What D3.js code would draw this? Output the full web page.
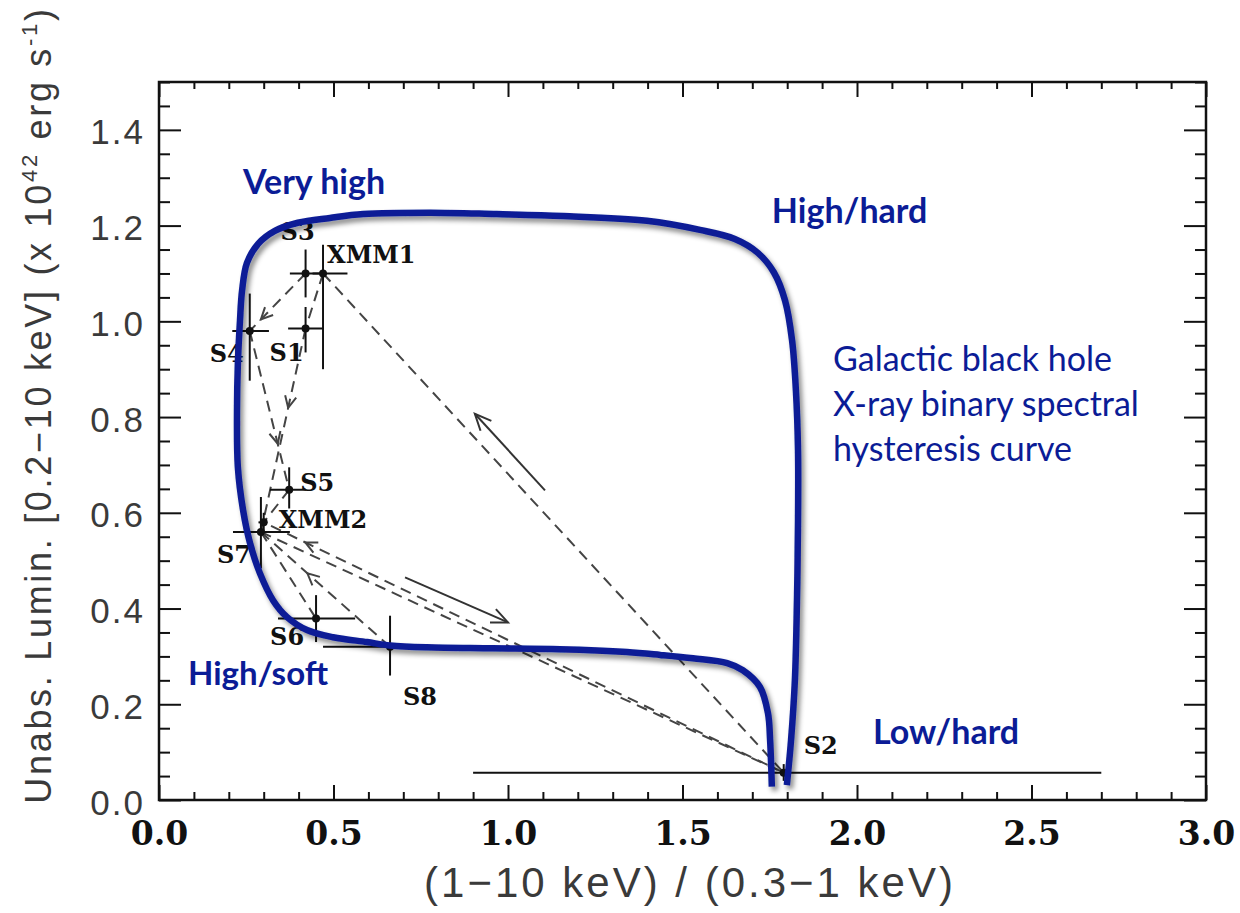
<!DOCTYPE html>
<html>
<head>
<meta charset="utf-8">
<script src="https://cdn.jsdelivr.net/npm/d3@7/dist/d3.min.js"></script>
<style>
  html, body { margin: 0; padding: 0; background: #fff; }
  svg { display: block; }
</style>
</head>
<body>
<svg id="chart" width="1240" height="913"></svg>
<script>
// ---- observations: hardness ratio (1-10 keV)/(0.3-1 keV) vs unabsorbed luminosity ----
const obsNames = ["XMM1", "S1", "S2", "S3", "S4", "S5", "XMM2", "S6", "S7", "S8"];
const hardness = [0.47, 0.42, 1.79, 0.42, 0.26, 0.373, 0.30, 0.45, 0.292, 0.662];
const hardLow  = [0.44, 0.37, 0.90, 0.375, 0.21, 0.318, 0.285, 0.341, 0.212, 0.47];
const hardHigh = [0.54, 0.47, 2.70, 0.47, 0.315, 0.421, 0.31, 0.562, 0.375, 0.86];
const lumin    = [1.10, 0.985, 0.057, 1.10, 0.98, 0.648, 0.58, 0.379, 0.560, 0.32];
const lumLow   = [0.90, 0.935, 0.040, 1.05, 0.876, 0.609, 0.56, 0.330, 0.484, 0.26];
const lumHigh  = [1.16, 1.03, 0.075, 1.15, 1.058, 0.695, 0.60, 0.428, 0.633, 0.385];

// dashed transitions between observations (from, to) and where a chevron sits (fraction along)
const pathFrom = ["XMM1", "S3", "S1", "S4", "XMM1", "S2",   "S7", "S8", "S7", "S5"];
const pathTo   = ["S1",   "S4", "S7", "S5", "S2",   "XMM2", "S2", "S7", "S6", "XMM2"];
const chevronAt = [null,  0.8,  0.39, 0.71, null,   0.92,   null, 0.64, null, null];

// solid direction arrows (tail -> head), data units
const arrowTailX = [1.106, 0.705];
const arrowTailY = [0.647, 0.465];
const arrowHeadX = [0.905, 1.00];
const arrowHeadY = [0.807, 0.371];

// hand-drawn hysteresis loop, data units
const loopX = [1.756, 1.751, 1.745, 1.722, 1.673, 1.628, 1.530, 1.436, 1.341, 1.149, 0.957, 0.768,
               0.662, 0.596, 0.499, 0.424, 0.367, 0.327, 0.289, 0.261, 0.241, 0.226, 0.2235, 0.226,
               0.232, 0.238, 0.252, 0.284, 0.332, 0.398, 0.490, 0.585, 0.777, 0.968, 1.158, 1.398,
               1.550, 1.650, 1.716, 1.762, 1.794, 1.814, 1.825, 1.831, 1.831, 1.828, 1.822, 1.811, 1.799];
const loopY = [0.028, 0.125, 0.181, 0.236, 0.271, 0.286, 0.296, 0.303, 0.309, 0.315, 0.317, 0.319,
               0.323, 0.330, 0.340, 0.355, 0.382, 0.417, 0.474, 0.536, 0.605, 0.695, 0.814, 0.912,
               1.001, 1.064, 1.122, 1.162, 1.189, 1.206, 1.216, 1.224, 1.227, 1.224, 1.220, 1.210,
               1.191, 1.172, 1.143, 1.102, 1.043, 0.960, 0.855, 0.730, 0.584, 0.417, 0.250, 0.125, 0.031];

// state annotations
const stateNames = ["Very high", "High/hard", "High/soft", "Low/hard"];
const stateX = [0.241, 1.756, 0.083, 2.046];
const stateY = [1.266, 1.206, 0.240, 0.117];
const stateSize = [34, 34, 33, 34];

const noteLines = ["Galactic black hole", "X-ray binary spectral", "hysteresis curve"];

const xMajor = [0, 0.5, 1.0, 1.5, 2.0, 2.5, 3.0];
const yMajor = [0, 0.2, 0.4, 0.6, 0.8, 1.0, 1.2, 1.4];

// ---- layout ----
const svg = d3.select("#chart");
const plotLeft = 159, plotRight = 1206, plotTop = 82, plotBottom = 800;
const x = d3.scaleLinear().domain([0, 3]).range([plotLeft, plotRight]);
const y = d3.scaleLinear().domain([0, 1.5]).range([plotBottom, plotTop]);
const blue = "#0b1c96";

const defs = svg.append("defs");
const shadow = defs.append("filter").attr("id", "loopShadow")
  .attr("x", "-10%").attr("y", "-10%").attr("width", "120%").attr("height", "120%");
shadow.append("feDropShadow").attr("dx", 3).attr("dy", 4).attr("stdDeviation", 2.5)
  .attr("flood-color", "#000").attr("flood-opacity", 0.45);

const idx = name => obsNames.indexOf(name);

// axes: ticks pointing into the frame on all four sides
const xMinor = d3.range(0, 3.0001, 0.1).filter(v => Math.abs(v * 2 - Math.round(v * 2)) > 1e-6);
const yMinor = d3.range(0, 1.5001, 0.05).filter(v => Math.abs(v * 5 - Math.round(v * 5)) > 1e-6);

function drawAxis(axisGen, transform) {
  const g = svg.append("g").attr("transform", transform).call(axisGen);
  g.select(".domain").remove();
  g.selectAll(".tick line").attr("stroke", "#111").attr("stroke-width", 2);
  return g;
}

// bottom
const gxb = drawAxis(d3.axisBottom(x).tickValues(xMajor).tickSize(-15).tickFormat(d3.format(".1f")).tickPadding(22),
  `translate(0,${plotBottom})`);
gxb.selectAll("text").attr("font-family", "DejaVu Serif").attr("font-weight", "bold")
  .attr("font-size", 33).attr("fill", "#111");
drawAxis(d3.axisBottom(x).tickValues(xMinor).tickSize(-8).tickFormat(""), `translate(0,${plotBottom})`);
// top
drawAxis(d3.axisTop(x).tickValues(xMajor).tickSize(-15).tickFormat(""), `translate(0,${plotTop})`);
drawAxis(d3.axisTop(x).tickValues(xMinor).tickSize(-7).tickFormat(""), `translate(0,${plotTop})`);
// left
const gyl = drawAxis(d3.axisLeft(y).tickValues(yMajor).tickSize(-22).tickFormat(d3.format(".1f")).tickPadding(14),
  `translate(${plotLeft},0)`);
gyl.selectAll("text").attr("font-family", "Liberation Sans").attr("font-size", 35)
  .attr("letter-spacing", 2).attr("fill", "#3a3a3a").attr("dy", "0.4em");
drawAxis(d3.axisLeft(y).tickValues(yMinor).tickSize(-11).tickFormat(""), `translate(${plotLeft},0)`);
// right
drawAxis(d3.axisRight(y).tickValues(yMajor).tickSize(-22).tickFormat(""), `translate(${plotRight},0)`);
drawAxis(d3.axisRight(y).tickValues(yMinor).tickSize(-11).tickFormat(""), `translate(${plotRight},0)`);

// frame
svg.append("rect").attr("x", plotLeft).attr("y", plotTop)
  .attr("width", plotRight - plotLeft).attr("height", plotBottom - plotTop)
  .attr("fill", "none").attr("stroke", "#111").attr("stroke-width", 2.5);

// axis titles
svg.append("text")
  .attr("x", 690).attr("y", 897)
  .attr("text-anchor", "middle")
  .attr("font-family", "Liberation Sans").attr("font-size", 42).attr("letter-spacing", 3)
  .attr("fill", "#3a3a3a")
  .text("(1\u221210 keV) / (0.3\u22121 keV)");

const yTitle = svg.append("text")
  .attr("transform", "translate(51,405) rotate(-90)")
  .attr("text-anchor", "middle")
  .attr("font-family", "Liberation Sans").attr("font-size", 36).attr("letter-spacing", 2.7)
  .attr("fill", "#3a3a3a");
yTitle.append("tspan").text("Unabs. Lumin. [0.2\u221210 keV] (x 10");
yTitle.append("tspan").attr("font-size", 22).attr("dy", -14).text("42");
yTitle.append("tspan").attr("dy", 14).text(" erg s");
yTitle.append("tspan").attr("font-size", 22).attr("dy", -14).text("-1");
yTitle.append("tspan").attr("dy", 14).text(")");

// dashed transitions
const dashed = svg.append("g").attr("stroke", "#444").attr("stroke-width", 2)
  .attr("stroke-dasharray", "11,7").attr("fill", "none");
pathFrom.forEach((from, i) => {
  const a = idx(from), b = idx(pathTo[i]);
  dashed.append("line")
    .attr("x1", x(hardness[a])).attr("y1", y(lumin[a]))
    .attr("x2", x(hardness[b])).attr("y2", y(lumin[b]));
});

// chevrons along transitions
const chev = svg.append("g").attr("stroke", "#444").attr("stroke-width", 2).attr("fill", "none");
pathFrom.forEach((from, i) => {
  const t = chevronAt[i];
  if (t === null) return;
  const a = idx(from), b = idx(pathTo[i]);
  const x1 = x(hardness[a]), y1 = y(lumin[a]), x2 = x(hardness[b]), y2 = y(lumin[b]);
  const px = x1 + (x2 - x1) * t, py = y1 + (y2 - y1) * t;
  const ang = Math.atan2(y2 - y1, x2 - x1);
  const L = 13, spread = 0.45;
  const p = (s) => [px - L * Math.cos(ang + s), py - L * Math.sin(ang + s)];
  chev.append("path").attr("d", d3.line()([p(spread), [px, py], p(-spread)]));
});

// solid direction arrows
const solid = svg.append("g").attr("stroke", "#333").attr("stroke-width", 2).attr("fill", "none");
arrowTailX.forEach((tx, i) => {
  const x1 = x(tx), y1 = y(arrowTailY[i]), x2 = x(arrowHeadX[i]), y2 = y(arrowHeadY[i]);
  solid.append("line").attr("x1", x1).attr("y1", y1).attr("x2", x2).attr("y2", y2);
  const ang = Math.atan2(y2 - y1, x2 - x1);
  const L = 18, spread = 0.42;
  const p = (s) => [x2 - L * Math.cos(ang + s), y2 - L * Math.sin(ang + s)];
  solid.append("path").attr("d", d3.line()([p(spread), [x2, y2], p(-spread)]));
});

// error bars and points
const pts = svg.append("g").attr("stroke", "#111").attr("stroke-width", 2);
obsNames.forEach((name, i) => {
  pts.append("line").attr("x1", x(hardLow[i])).attr("x2", x(hardHigh[i]))
    .attr("y1", y(lumin[i])).attr("y2", y(lumin[i]));
  pts.append("line").attr("x1", x(hardness[i])).attr("x2", x(hardness[i]))
    .attr("y1", y(lumLow[i])).attr("y2", y(lumHigh[i]));
});
svg.append("g").selectAll("circle").data(obsNames).join("circle")
  .attr("cx", (d, i) => x(hardness[i])).attr("cy", (d, i) => y(lumin[i]))
  .attr("r", 4).attr("fill", "#111");

// observation labels (offsets in px from each point)
const labelDx = { XMM1: 4, S1: -36, S2: 20, S3: -25, S4: -40, S5: 11, XMM2: 15, S6: -46, S7: -44, S8: 13 };
const labelDy = { XMM1: -10, S1: 32, S2: -19, S3: -33, S4: 31, S5: 1, XMM2: 6, S6: 26, S7: 31, S8: 58 };
svg.append("g").selectAll("text").data(obsNames).join("text")
  .attr("x", (d, i) => x(hardness[i]) + labelDx[d])
  .attr("y", (d, i) => y(lumin[i]) + labelDy[d])
  .attr("font-family", "DejaVu Serif").attr("font-weight", "bold").attr("font-size", 24)
  .attr("fill", "#111")
  .text(d => d);

// hysteresis loop
svg.append("path")
  .datum(loopX.map((v, i) => [v, loopY[i]]))
  .attr("d", d3.line().x(d => x(d[0])).y(d => y(d[1])).curve(d3.curveCatmullRom.alpha(0.5)))
  .attr("fill", "none").attr("stroke", blue).attr("stroke-width", 6.5)
  .attr("stroke-linecap", "butt").attr("stroke-linejoin", "round")
  .attr("filter", "url(#loopShadow)");

// state labels
svg.append("g").selectAll("text").data(stateNames).join("text")
  .attr("x", (d, i) => x(stateX[i])).attr("y", (d, i) => y(stateY[i]))
  .attr("font-family", "Lato").attr("font-weight", "bold").attr("font-size", (d, i) => stateSize[i])
  .attr("fill", blue).text(d => d);

// note
svg.append("g").selectAll("text").data(noteLines).join("text")
  .attr("x", 833).attr("y", (d, i) => 371 + i * 45)
  .attr("font-family", "Lato").attr("font-size", 34)
  .attr("fill", blue).text(d => d);
</script>
</body>
</html>
